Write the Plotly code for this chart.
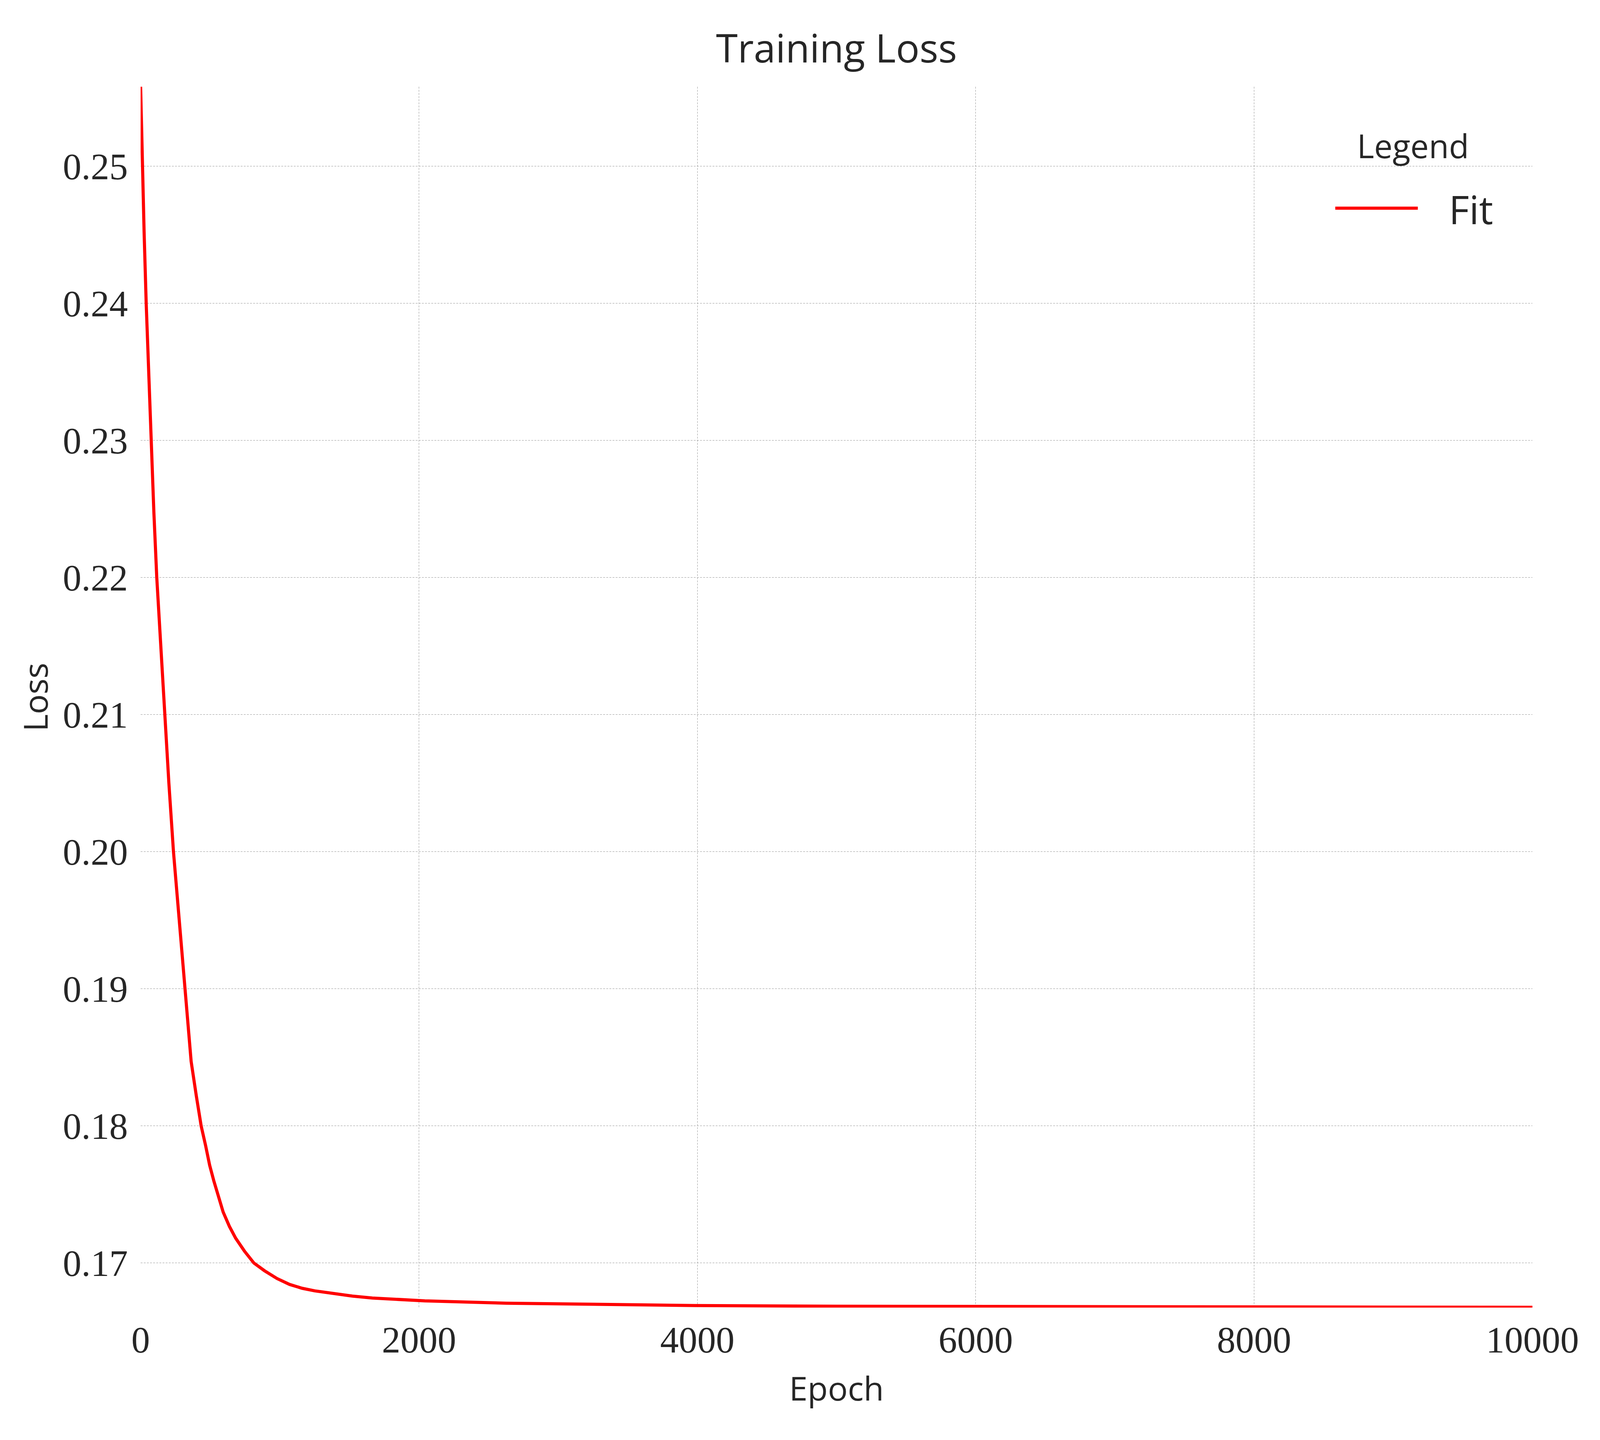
import json
import plotly.graph_objects as go

# ---- data ----
epochs = [0, 12, 25, 40, 57, 74, 95, 116, 145, 173, 203, 236, 277, 316, 363,
          400, 435, 467, 496, 526, 557, 593, 638, 683, 746, 814, 890, 980,
          1070, 1160, 1251, 1386, 1521, 1665, 2042, 2627, 3300, 4000, 5000,
          6725, 8500, 10000]
loss = [0.2558, 0.2500, 0.2452, 0.2400, 0.2348, 0.2300, 0.2248, 0.2200, 0.2147,
        0.2100, 0.2050, 0.2000, 0.1949, 0.1900, 0.1847, 0.1822, 0.1800, 0.17856,
        0.17713, 0.17599, 0.17485, 0.17372, 0.17267, 0.17181, 0.17087, 0.17000,
        0.16944, 0.16887, 0.16844, 0.16816, 0.16797, 0.16778, 0.16759, 0.16745,
        0.16724, 0.16707, 0.16698, 0.16690, 0.16685, 0.16681, 0.16679, 0.16677]
series_name = "Fit"
x_ticks = [0, 2000, 4000, 6000, 8000, 10000]
y_ticks = [0.17, 0.18, 0.19, 0.20, 0.21, 0.22, 0.23, 0.24, 0.25]
y_tick_labels = ["0.17", "0.18", "0.19", "0.20", "0.21", "0.22", "0.23", "0.24", "0.25"]

# ---- layout geometry (pixels of the 4887x3687 target) ----
W, H = 4887, 3687
L, R, T, B = 430, 4680, 222, 3348


def px(x):
    return (x - L) / (R - L)


def py(y):
    return (B - y) / (B - T)


SANS = "Open Sans, Noto Sans, DejaVu Sans, sans-serif"
SERIF = "Liberation Serif, Times New Roman, serif"
TXT = "#262626"
GRID = "#9a9a9a"

SZ_TITLE, SZ_TICK, SZ_AXT, SZ_LEGT, SZ_ITEM = 114, 104, 96, 95, 114
LINE_W, GRID_W = 8, 1
XTICKLEN, YTICKLEN, XSTAND, YSTAND = 0, 15, 43, 12

fig = go.Figure()
fig.add_trace(go.Scatter(
    x=epochs, y=loss, mode="lines", name=series_name,
    line=dict(color="#ff0000", width=LINE_W), showlegend=False, hoverinfo="x+y",
))

fig.update_layout(
    template="none",
    width=W, height=H,
    margin=dict(l=L, r=W - R, t=T, b=H - B, pad=0),
    paper_bgcolor="white", plot_bgcolor="white",
    font=dict(family=SANS, color=TXT),
    title=dict(text="Training Loss", x=px(2555), xref="paper", xanchor="center",
               y=1 - 125 / H, yref="container", yanchor="middle",
               font=dict(family=SANS, size=SZ_TITLE, color=TXT)),
    xaxis=dict(
        range=[0, 10000], tickvals=x_ticks, ticktext=[str(v) for v in x_ticks],
        showgrid=True, gridcolor=GRID, gridwidth=GRID_W, griddash="5px,3px",
        zeroline=False, showline=False, automargin=False,
        ticks="outside", ticklen=XTICKLEN, tickcolor="rgba(0,0,0,0)",
        tickfont=dict(family=SERIF, size=SZ_TICK, color=TXT),
        title=dict(text="Epoch", standoff=XSTAND, font=dict(family=SANS, size=SZ_AXT, color=TXT)),
    ),
    yaxis=dict(
        range=[0.16675, 0.2558], tickvals=y_ticks, ticktext=y_tick_labels,
        showgrid=True, gridcolor=GRID, gridwidth=GRID_W, griddash="5px,3px",
        zeroline=False, showline=False, automargin=False,
        ticks="outside", ticklen=YTICKLEN, tickcolor="rgba(0,0,0,0)",
        tickfont=dict(family=SERIF, size=SZ_TICK, color=TXT),
        title=dict(text="Loss", standoff=YSTAND, font=dict(family=SANS, size=SZ_AXT, color=TXT)),
    ),
)

# ---- legend (drawn manually for size fidelity) ----
fig.add_annotation(text="Legend", xref="paper", yref="paper",
                   x=px(4315), y=py(372), xanchor="center", yanchor="middle",
                   showarrow=False, font=dict(family=SANS, size=SZ_LEGT, color=TXT))
fig.add_shape(type="line", xref="paper", yref="paper",
              x0=px(4078), x1=px(4330), y0=py(533), y1=py(533),
              line=dict(color="#ff0000", width=LINE_W))
fig.add_annotation(text=series_name, xref="paper", yref="paper",
                   x=px(4422), y=py(535), xanchor="left", yanchor="middle",
                   showarrow=False, font=dict(family=SANS, size=SZ_ITEM, color=TXT))

# Fit the figure to the real browser viewport (proportional layout).
P = dict(W=W, H=H, L=L, R=W - R, T=T, B=H - B,
         st=SZ_TITLE, sk=SZ_TICK, sa=SZ_AXT, sl=SZ_LEGT, si=SZ_ITEM,
         lw=LINE_W, gw=GRID_W, xt=XTICKLEN, yt=YTICKLEN, xs=XSTAND, ys=YSTAND)
fit_js = """
var P = %s;
document.documentElement.style.margin = '0';
document.body.style.margin = '0';
document.documentElement.style.overflow = 'hidden';
document.body.style.overflow = 'hidden';
var gd = document.getElementById('{plot_id}');
var w = window.innerWidth, h = window.innerHeight;
var sx = w / P.W, sy = h / P.H;
var fk = Math.sqrt(sx * sy);                       // serif tick labels
var fs = Math.pow(sx, 0.7) * Math.pow(sy, 0.3);    // sans texts
if (Math.abs(sx - 1) > 1e-3 || Math.abs(sy - 1) > 1e-3) {
  return Plotly.restyle(gd, {'line.width': P.lw * sy}).then(function () {
    return Plotly.relayout(gd, {
      'width': w, 'height': h,
      'margin.l': P.L * sx, 'margin.r': P.R * sx, 'margin.t': P.T * sy, 'margin.b': P.B * sy,
      'title.font.size': P.st * fs,
      'xaxis.tickfont.size': P.sk * fk, 'yaxis.tickfont.size': P.sk * fk,
      'xaxis.title.font.size': P.sa * fs, 'yaxis.title.font.size': P.sa * fs,
      'xaxis.ticklen': P.xt * sy, 'yaxis.ticklen': P.yt * sx,
      'xaxis.title.standoff': P.xs * sy, 'yaxis.title.standoff': P.ys * sx,
      'xaxis.gridwidth': P.gw * fk, 'yaxis.gridwidth': P.gw * fk,
      'annotations[0].font.size': P.sl * fs, 'annotations[1].font.size': P.si * fs,
      'shapes[0].line.width': P.lw * sy
    });
  });
}
""" % json.dumps(P)

fig.write_html("out.html", post_script=fit_js, config={"displayModeBar": False})
